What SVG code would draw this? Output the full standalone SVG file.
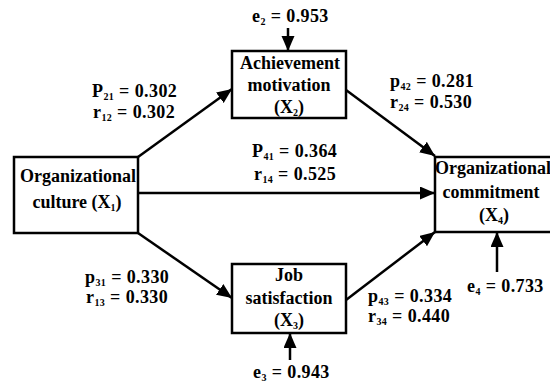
<svg xmlns="http://www.w3.org/2000/svg" width="550" height="385" viewBox="0 0 550 385">
<style>
.box{fill:#fff;stroke:#000;stroke-width:2.5}
.t{font-family:"Liberation Serif","Times New Roman",serif;font-weight:bold;font-size:18px;fill:#000}
.c{text-anchor:middle}
.s{font-size:10px}
.lb{letter-spacing:0.4px}
.ln{stroke:#000;stroke-width:2.5;fill:none;marker-end:url(#ah)}
</style>
<defs>
<marker id="ah" markerUnits="userSpaceOnUse" markerWidth="16" markerHeight="14" refX="15" refY="6.5" orient="auto">
<path d="M0,0 L15,6.5 L0,13 z" fill="#000"/>
</marker>
</defs>
<rect width="550" height="385" fill="#fff"/>
<g id="connectors">
<line class="ln" x1="138" y1="157" x2="232" y2="89"/>
<line class="ln" x1="138" y1="193" x2="435" y2="193"/>
<line class="ln" x1="138" y1="233" x2="232" y2="298"/>
<line class="ln" x1="346" y1="90" x2="435" y2="156"/>
<line class="ln" x1="346" y1="300" x2="435" y2="232"/>
<line class="ln" x1="288" y1="28" x2="288" y2="51"/>
<line class="ln" x1="290" y1="360" x2="290" y2="333"/>
<line class="ln" x1="497" y1="272" x2="497" y2="232"/>
</g>
<g id="x1">
<rect class="box" x="14" y="157" width="124" height="76"/>
<text class="t c" x="78" y="182">Organizational</text>
<text class="t c" x="77" y="208">culture (X<tspan class="s" dy="3">1</tspan><tspan dy="-3">)</tspan></text>
</g>
<g id="x2">
<rect class="box" x="232" y="51" width="114" height="67"/>
<text class="t c" x="290" y="69">Achievement</text>
<text class="t c" x="289" y="91">motivation</text>
<text class="t c" x="289" y="113">(X<tspan class="s" dy="3">2</tspan><tspan dy="-3">)</tspan></text>
</g>
<g id="x3">
<rect class="box" x="232" y="264" width="114" height="69"/>
<text class="t c" x="289" y="281">Job</text>
<text class="t c" x="289" y="304">satisfaction</text>
<text class="t c" x="289" y="326">(X<tspan class="s" dy="3">3</tspan><tspan dy="-3">)</tspan></text>
</g>
<g id="x4">
<rect class="box" x="435" y="157" width="120" height="75"/>
<text class="t c" x="493" y="174">Organizational</text>
<text class="t c" x="491" y="198">commitment</text>
<text class="t c" x="494" y="221">(X<tspan class="s" dy="3">4</tspan><tspan dy="-3">)</tspan></text>
</g>
<g id="labels">
<text class="t lb" x="252" y="22">e<tspan class="s" dy="3">2</tspan><tspan dy="-3"> = 0.953</tspan></text>
<text class="t lb" x="92" y="97">P<tspan class="s" dy="3">21</tspan><tspan dy="-3"> = 0.302</tspan></text>
<text class="t lb" x="93" y="118">r<tspan class="s" dy="3">12</tspan><tspan dy="-3"> = 0.302</tspan></text>
<text class="t lb" x="252" y="157">P<tspan class="s" dy="3">41</tspan><tspan dy="-3"> = 0.364</tspan></text>
<text class="t lb" x="254" y="180">r<tspan class="s" dy="3">14</tspan><tspan dy="-3"> = 0.525</tspan></text>
<text class="t lb" x="390" y="87">p<tspan class="s" dy="3">42</tspan><tspan dy="-3"> = 0.281</tspan></text>
<text class="t lb" x="390" y="108">r<tspan class="s" dy="3">24</tspan><tspan dy="-3"> = 0.530</tspan></text>
<text class="t lb" x="85" y="283">p<tspan class="s" dy="3">31</tspan><tspan dy="-3"> = 0.330</tspan></text>
<text class="t lb" x="86" y="303">r<tspan class="s" dy="3">13</tspan><tspan dy="-3"> = 0.330</tspan></text>
<text class="t lb" x="368" y="302">p<tspan class="s" dy="3">43</tspan><tspan dy="-3"> = 0.334</tspan></text>
<text class="t lb" x="368" y="322">r<tspan class="s" dy="3">34</tspan><tspan dy="-3"> = 0.440</tspan></text>
<text class="t lb" x="467" y="292">e<tspan class="s" dy="3">4</tspan><tspan dy="-3"> = 0.733</tspan></text>
<text class="t lb" x="253" y="378">e<tspan class="s" dy="3">3</tspan><tspan dy="-3"> = 0.943</tspan></text>
</g>
</svg>
